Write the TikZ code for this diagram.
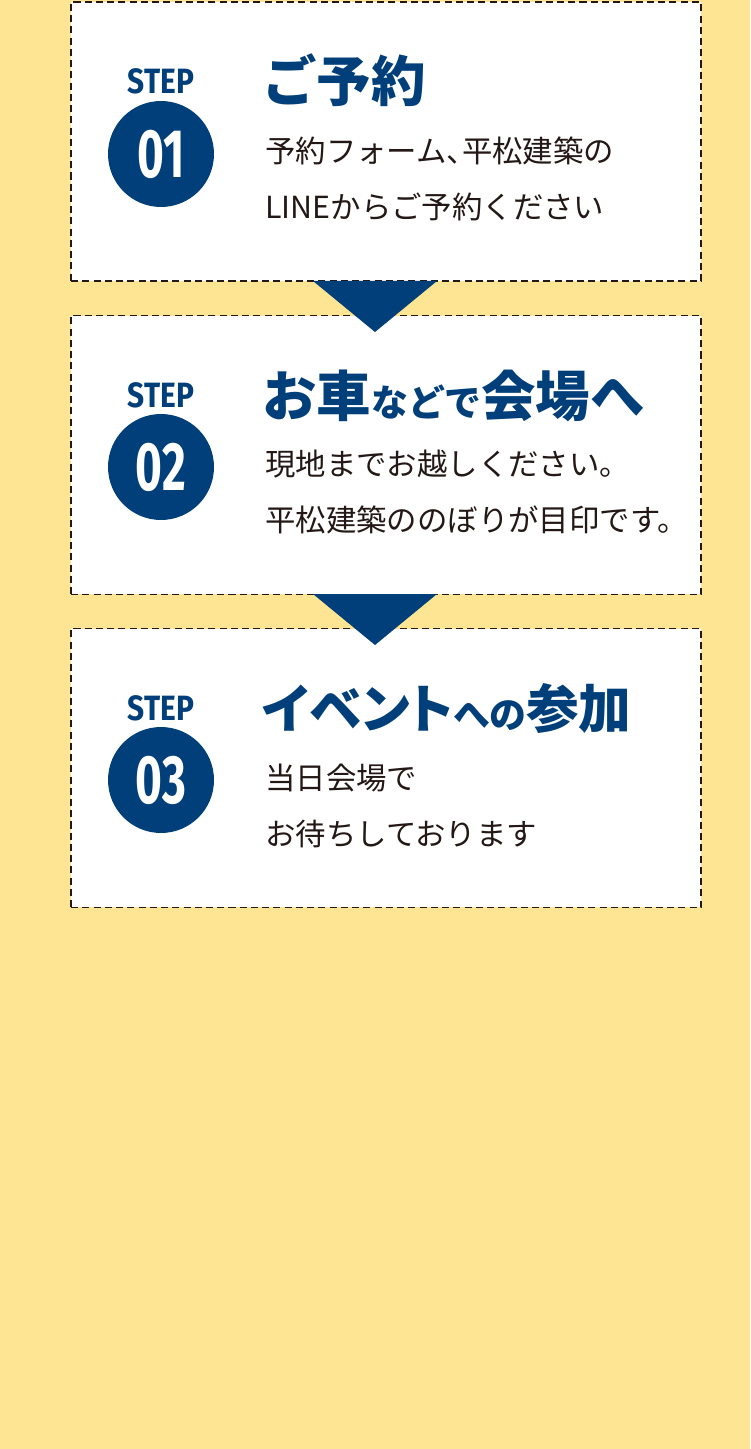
\documentclass[tikz,border=0pt]{standalone}
\usepackage{fontspec}
\setmainfont{Noto Sans CJK JP}
\newfontfamily\kanafont{Noto Sans CJK JP}[RawFeature=+palt]
\newfontfamily\stepfont{Fira Sans}
\usetikzlibrary{positioning}
\definecolor{stepblue}{HTML}{003F7A}
\definecolor{bgyellow}{HTML}{FEE594}
\definecolor{inkdark}{HTML}{231815}
\tikzset{
  stepbox/.style={draw=inkdark, line width=1.1pt, dash pattern=on 4pt off 2.4pt,
    fill=white, minimum width=12.6cm, minimum height=5.58cm, inner sep=0pt},
  steplabel/.style={text=stepblue, inner sep=0pt,
    font=\stepfont\bfseries\fontsize{20}{20}\selectfont},
  stepcircle/.style={circle, fill=stepblue, minimum size=2.12cm, inner sep=0pt,
    text=white, font=\stepfont\bfseries\fontsize{39}{39}\selectfont},
  steptitle/.style={anchor=west, text=stepblue, inner sep=0pt,
    font=\bfseries\fontsize{31}{31}\selectfont},
  steptext/.style={anchor=west, text=inkdark, align=left, inner sep=0pt,
    font=\fontsize{17.3}{32}\selectfont},
  stepdown/.style={fill=stepblue}
}
\newcommand{\smallkana}[1]{{\fontsize{21}{21}\selectfont #1}}
\begin{document}
\begin{tikzpicture}[x=0.02cm, y=-0.02cm]
\fill[bgyellow] (0,0) rectangle (750,1449);
\useasboundingbox (0,0) rectangle (750,1449);

\node[stepbox] (box1) at (386,141.5) {};
\node[stepbox] (box2) at (386,455) {};
\node[stepbox] (box3) at (386,768) {};

\fill[stepdown] (313,281) -- (437,281) -- (375,332) -- cycle;
\fill[stepdown] (313,594) -- (437,594) -- (375,645) -- cycle;

\node[steplabel] (step1) at (161,81) {\scalebox{0.85}[1]{STEP}};
\node[stepcircle] (num1) at (161,154) {\scalebox{0.67}[1]{01}};
\node[steptitle] (title1) at (262,80) {ご予約};
\node[steptext] (text1) at (265,179) {予約フォーム{\kanafont 、}平松建築の\\LINEからご予約ください};

\node[steplabel] (step2) at (161,395) {\scalebox{0.85}[1]{STEP}};
\node[stepcircle] (num2) at (161,467) {\scalebox{0.67}[1]{02}};
\node[steptitle] (title2) at (262,396) {お車\smallkana{などで}会場へ};
\node[steptext] (text2) at (265,492) {現地までお越しください。\\平松建築ののぼりが目印です。};

\node[steplabel] (step3) at (161,708) {\scalebox{0.85}[1]{STEP}};
\node[stepcircle] (num3) at (161,780) {\scalebox{0.67}[1]{03}};
\node[steptitle, font=\kanafont\bfseries\fontsize{30}{30}\selectfont] (title3) at (262,708) {イベント\smallkana{への}参加};
\node[steptext] (text3) at (265,806) {当日会場で\\お待ちしております};
\end{tikzpicture}
\end{document}
